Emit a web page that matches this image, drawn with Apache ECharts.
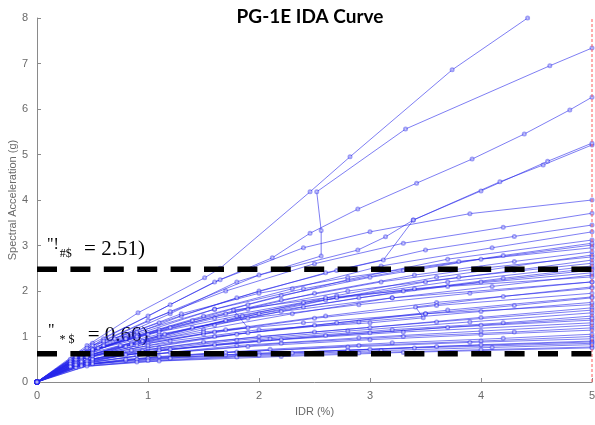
<!DOCTYPE html>
<html><head><meta charset="utf-8">
<script src="https://cdn.jsdelivr.net/npm/echarts@6/dist/echarts.min.js"></script>
<style>html,body{margin:0;padding:0;background:#fff}#c{width:595px;height:425px}</style>
</head><body><div id="c"></div>
<script>
const titleText = 'PG-1E IDA Curve';
const xName = 'IDR (%)';
const yName = 'Spectral Acceleration (g)';
const xTicks = [0, 1, 2, 3, 4, 5];
const yTicks = [0, 1, 2, 3, 4, 5, 6, 7, 8];
const limitIDR = 5;
const upperSa = 2.48, upperText = '2.51)';
const lowerSa = 0.62, lowerText = '0.66)';

// IDA curves: [IDR (%), Sa (g)]
const c01 = [[0,0],[0.45,0.8],[0.91,1.52],[1.51,2.29],[1.65,2.5],[2.46,4.18],[2.82,4.95],[3.74,6.86],[4.42,8.0]];
const c02 = [[0,0],[0.6,0.85],[1.2,1.5],[1.8,2.2],[2.56,2.77],[2.56,3.33],[2.52,4.18],[3.32,5.56],[4.62,6.95],[5,7.34]];
const c03 = [[0,0],[0.6,0.95],[1.2,1.7],[1.65,2.25],[2.12,2.73],[2.46,3.27],[2.89,3.8],[3.42,4.37],[3.92,4.9],[4.39,5.45],[4.8,5.98],[5,6.26]];
const c04 = [[0,0],[0.6,0.8],[1.3,1.45],[2.0,2.0],[2.7,2.45],[3.12,2.68],[3.39,3.56],[4.17,4.4],[4.56,4.77],[5,5.21]];
const c05 = [[0,0],[0.6,0.9],[1.2,1.55],[2.0,2.35],[2.89,2.9],[3.14,3.19],[3.39,3.56],[4.0,4.2],[4.6,4.85],[5,5.25]];
const c06 = [[0,0],[0.5,0.85],[1.0,1.45],[1.6,2.2],[2.4,2.95],[3.0,3.3],[3.9,3.7],[5,4.0]];
const c07 = [[0,0],[0.45,0.75],[1.0,1.35],[1.7,2.0],[2.5,2.6],[3.3,3.05],[4.2,3.4],[5,3.71]];
const c08 = [[0,0],[0.5,0.8],[1.1,1.3],[1.8,1.85],[2.6,2.4],[3.5,2.9],[4.3,3.2],[5,3.45]];
const c09 = [[0,0],[0.4,0.6],[0.9,1.05],[1.6,1.6],[2.3,2.05],[3.1,2.55],[4.1,2.95],[5,3.3]];
const c10 = [[0,0],[0.5,0.7],[1.1,1.15],[1.9,1.7],[2.8,2.25],[3.7,2.7],[5,3.12]];
const c11 = [[0,0],[0.35,0.5],[0.8,0.95],[1.5,1.45],[2.2,1.9],[3.0,2.3],[4.0,2.7],[5,3.01]];
const c12 = [[0,0],[0.3,0.5],[0.7,0.95],[1.3,1.5],[2.0,1.95],[2.8,2.3],[3.8,2.65],[5,2.95]];
const c13 = [[0,0],[0.45,0.65],[1.0,1.05],[1.7,1.5],[2.5,1.95],[3.4,2.35],[4.3,2.65],[5,2.86]];
const c14 = [[0,0],[0.5,0.6],[1.1,1.0],[1.85,1.45],[2.7,1.9],[3.6,2.3],[5,2.79]];
const c15 = [[0,0],[0.4,0.55],[0.95,0.9],[1.7,1.35],[2.6,1.8],[3.5,2.2],[4.3,2.45],[5,2.68]];
const c16 = [[0,0],[0.55,0.75],[1.2,1.2],[1.9,1.6],[2.8,2.0],[3.8,2.3],[5,2.61]];
const c17 = [[0,0],[0.4,0.5],[0.9,0.85],[1.6,1.25],[2.4,1.65],[3.3,2.0],[4.2,2.28],[5,2.5]];
const c18 = [[0,0],[0.5,0.65],[1.15,1.05],[2.0,1.5],[2.9,1.85],[4.0,2.2],[5,2.46]];
const c19 = [[0,0],[0.35,0.45],[0.8,0.78],[1.5,1.15],[2.3,1.5],[3.2,1.85],[4.1,2.1],[5,2.35]];
const c20 = [[0,0],[0.45,0.55],[1.0,0.85],[1.5,1.05],[1.9,1.19],[1.77,1.58],[2.6,1.85],[3.7,2.1],[5,2.31]];
const c21 = [[0,0],[0.3,0.45],[0.75,0.8],[1.4,1.2],[2.2,1.55],[3.2,1.85],[5,2.2]];
const c22 = [[0,0],[0.5,0.55],[1.2,0.9],[2.0,1.15],[3.0,1.3],[3.48,1.41],[3.41,1.65],[4.2,1.88],[5,2.09]];
const c23 = [[0,0],[0.4,0.5],[0.9,0.8],[1.7,1.15],[2.6,1.45],[3.6,1.75],[5,2.06]];
const c24 = [[0,0],[0.45,0.48],[1.0,0.75],[1.8,1.05],[2.7,1.3],[3.7,1.58],[5,1.87]];
const c25 = [[0,0],[0.35,0.42],[0.85,0.7],[1.6,1.0],[2.5,1.25],[3.5,1.5],[4.3,1.68],[5,1.85]];
const c26 = [[0,0],[0.4,0.55],[0.85,0.85],[1.5,1.1],[2.4,1.3],[3.5,1.5],[5,1.7]];
const c27 = [[0,0],[0.5,0.5],[1.1,0.75],[2.0,1.0],[3.0,1.2],[4.0,1.42],[5,1.63]];
const c28 = [[0,0],[0.4,0.42],[0.95,0.68],[1.8,0.92],[2.8,1.12],[3.9,1.32],[5,1.52]];
const c29 = [[0,0],[0.45,0.45],[1.1,0.7],[2.1,0.95],[3.2,1.15],[4.2,1.3],[5,1.45]];
const c30 = [[0,0],[0.3,0.35],[0.8,0.6],[1.6,0.82],[2.6,1.02],[3.7,1.2],[5,1.36]];
const c31 = [[0,0],[0.5,0.45],[1.2,0.65],[2.2,0.85],[3.3,1.0],[4.3,1.1],[5,1.19]];
const c32 = [[0,0],[0.4,0.4],[1.0,0.6],[1.9,0.78],[3.0,0.93],[4.0,1.04],[5,1.14]];
const c33 = [[0,0],[0.35,0.36],[0.9,0.5],[1.8,0.66],[2.9,0.8],[4.0,0.9],[5,1.0]];
const c34 = [[0,0],[0.4,0.38],[1.0,0.52],[2.0,0.63],[3.0,0.72],[4.0,0.82],[5,0.9]];
const c35 = [[0,0],[0.3,0.33],[0.8,0.47],[1.7,0.6],[2.8,0.7],[3.6,0.78],[5,0.88]];
const c36 = [[0,0],[0.5,0.4],[1.2,0.52],[2.3,0.64],[3.4,0.75],[5,0.85]];
const c37 = [[0,0],[0.35,0.32],[0.9,0.44],[1.8,0.55],[2.9,0.64],[4.0,0.71],[5,0.77]];
const c38 = [[0,0],[0.45,0.35],[1.1,0.46],[2.2,0.56],[3.3,0.65],[5,0.75]];
const c39 = [[0,0],[0.4,0.6],[0.9,1.0],[1.6,1.4],[2.4,1.75],[3.4,2.05],[5,2.4]];
const c40 = [[0,0],[0.5,0.7],[1.1,1.05],[1.9,1.4],[2.9,1.7],[3.9,1.95],[5,2.2]];
const c41 = [[0,0],[0.35,0.5],[0.85,0.82],[1.6,1.1],[2.5,1.4],[3.6,1.68],[5,1.95]];
const c42 = [[0,0],[0.45,0.55],[1.0,0.8],[1.9,1.08],[2.9,1.32],[4.0,1.55],[5,1.75]];
const c43 = [[0,0],[0.3,0.4],[0.75,0.63],[1.5,0.88],[2.5,1.1],[3.6,1.32],[5,1.58]];
const c44 = [[0,0],[0.4,0.45],[1.0,0.66],[2.0,0.9],[3.0,1.08],[4.0,1.25],[5,1.4]];
const c45 = [[0,0],[0.35,0.38],[0.9,0.58],[1.8,0.8],[2.9,0.97],[4.0,1.12],[5,1.25]];
const c46 = [[0,0],[0.45,0.4],[1.1,0.56],[2.1,0.72],[3.2,0.86],[4.2,0.96],[5,1.05]];
const c47 = [[0,0],[0.3,0.34],[0.8,0.5],[1.7,0.65],[2.8,0.77],[3.9,0.87],[5,0.95]];
const c48 = [[0,0],[0.4,0.35],[1.0,0.47],[2.0,0.59],[3.1,0.69],[4.1,0.76],[5,0.82]];
const c49 = [[0,0],[0.35,0.55],[0.8,0.95],[1.4,1.35],[2.2,1.8],[3.1,2.2],[4.0,2.5],[5,2.75]];
const c50 = [[0,0],[0.4,0.65],[0.9,1.1],[1.6,1.6],[2.4,2.05],[3.3,2.45],[4.2,2.78],[5,3.05]];
const c51 = [[0,0],[0.5,0.72],[1.1,1.1],[1.8,1.45],[2.7,1.85],[3.7,2.2],[5,2.55]];
const c52 = [[0,0],[0.5,0.5],[1.2,0.72],[2.2,0.93],[3.3,1.1],[5,1.3]];

const curves = [c01,c02,c03,c04,c05,c06,c07,c08,c09,c10,c11,c12,c13,c14,c15,c16,c17,c18,c19,c20,
  c21,c22,c23,c24,c25,c26,c27,c28,c29,c30,c31,c32,c33,c34,c35,c36,c37,c38,c39,c40,
  c41,c42,c43,c44,c45,c46,c47,c48,c49,c50,c51,c52];

const chart = echarts.init(document.getElementById('c'), null, {renderer: 'canvas'});
const lineColor = 'rgba(40,40,235,0.6)';
const series = curves.map(d => ({
  type: 'line', data: d, symbol: 'emptyCircle', symbolSize: 3, showSymbol: true,
  lineStyle: {color: lineColor, width: 1}, itemStyle: {color: 'rgba(40,40,235,0.45)', borderWidth: 0.7},
  emphasis: {disabled: true}, animation: false, clip: true, z: 2
}));
series.push({
  type: 'line', data: [[limitIDR, 0], [limitIDR, 8]], symbol: 'none', animation: false,
  lineStyle: {color: '#ff5a5a', width: 1, type: [3, 2]}, z: 3
});
series.push({
  type: 'line', data: [[0, upperSa], [5, upperSa]], symbol: 'none', animation: false,
  lineStyle: {color: '#000', width: 5.5, type: [20, 13.4]}, z: 4
});
series.push({
  type: 'line', data: [[0, lowerSa], [5, lowerSa]], symbol: 'none', animation: false,
  lineStyle: {color: '#000', width: 5.5, type: [20, 13.4]}, z: 4
});

const axisCommon = {
  axisLine: {show: true, lineStyle: {color: '#8a8a8a', width: 1}},
  axisTick: {show: true, inside: true, length: 4, lineStyle: {color: '#8a8a8a'}},
  axisLabel: {color: '#6a6a6a', fontSize: 11, fontFamily: 'Liberation Sans, Arial, sans-serif'},
  splitLine: {show: false},
  nameTextStyle: {color: '#6a6a6a', fontSize: 11, fontFamily: 'Liberation Sans, Arial, sans-serif'}
};

const serif = 'Liberation Serif, Times New Roman, serif';
chart.setOption({
  backgroundColor: '#fff',
  animation: false,
  title: {
    text: titleText, left: 305, top: 2, textAlign: 'center',
    textStyle: {fontFamily: 'Lato, sans-serif', fontWeight: 'bold', fontSize: 19, color: '#000'}
  },
  grid: {left: 37, right: 3, top: 18, bottom: 43, containLabel: false, outerBoundsMode: 'none'},
  xAxis: Object.assign({}, axisCommon, {
    type: 'value', min: xTicks[0], max: xTicks[xTicks.length - 1], interval: 1,
    name: xName, nameLocation: 'middle', nameGap: 24, nameMoveOverlap: false,
    axisLabel: Object.assign({}, axisCommon.axisLabel, {margin: 8})
  }),
  yAxis: Object.assign({}, axisCommon, {
    type: 'value', min: yTicks[0], max: yTicks[yTicks.length - 1], interval: 1,
    name: yName, nameLocation: 'middle', nameGap: 19, nameMoveOverlap: false,
    axisLabel: Object.assign({}, axisCommon.axisLabel, {margin: 9})
  }),
  graphic: [
    {type: 'text', left: 47, top: 237, style: {
      text: '{a|"!}{b|#$}{c| = ' + upperText + '}',
      rich: {
        a: {fontFamily: serif, fontSize: 16, color: '#000', padding: [0,0,8,0]},
        b: {fontFamily: serif, fontSize: 12, color: '#000', padding: [10,0,0,1]},
        c: {fontFamily: serif, fontSize: 21, color: '#000', padding: [0,0,0,7]}
      }}},
    {type: 'text', left: 48, top: 323, style: {
      text: '{a|"}{b| * $}{c| = ' + lowerText + '}',
      rich: {
        a: {fontFamily: serif, fontSize: 16, color: '#000', padding: [0,0,8,0]},
        b: {fontFamily: serif, fontSize: 12, color: '#000', padding: [10,0,0,2]},
        c: {fontFamily: serif, fontSize: 21, color: '#000', padding: [0,0,0,8]}
      }}}
  ],
  series: series
});
</script></body></html>
